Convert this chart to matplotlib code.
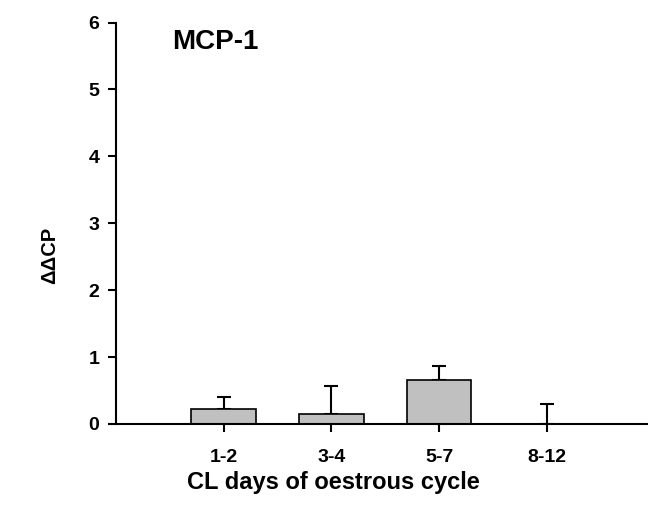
import matplotlib
matplotlib.use("Agg")
import matplotlib.pyplot as plt

plt.rcParams['font.family'] = ['Liberation Sans', 'DejaVu Sans']
plt.rcParams['font.weight'] = 'bold'

categories = ["1-2", "3-4", "5-7", "8-12"]
means = [0.23, 0.15, 0.66, 0.0]
errors = [0.18, 0.42, 0.20, 0.30]

fig = plt.figure(figsize=(6.48, 5.2), dpi=100)
ax = fig.add_axes([116 / 648, (520 - 424) / 520, 1 - 116 / 648, (424 - 22.5) / 520])

x = [1, 2, 3, 4]
ax.bar(x, means, width=0.6, color="#c0c0c0", edgecolor="black", linewidth=1.2, zorder=2)
ax.errorbar(x, means, yerr=[[0] * 4, errors], fmt="none", ecolor="black",
            elinewidth=1.5, capsize=5, capthick=1.5, zorder=1)

ax.set_xlim(0, 4.94)
ax.set_ylim(0, 6)
ax.set_xticks(x)
ax.set_xticklabels(categories)
ax.set_yticks(range(7))
for s in ["top", "right"]:
    ax.spines[s].set_visible(False)
ax.spines["left"].set_linewidth(1.5)
ax.spines["bottom"].set_linewidth(1.5)
ax.tick_params(direction="out", length=6, width=1.5, labelsize=14)
ax.tick_params(axis="x", pad=12)
ax.tick_params(axis="y", pad=6)
for lab in ax.get_xticklabels() + ax.get_yticklabels():
    lab.set_fontweight("bold")

fig.text(172 / 648, 1 - 42 / 520, "MCP-1", fontsize=20, fontweight="bold",
         va="center", ha="left")
fig.text(333 / 648, 1 - 482 / 520, "CL days of oestrous cycle", ha="center",
         va="center", fontsize=17, fontweight="bold")
fig.text(50 / 648, 1 - 255 / 520, "ΔΔCP", rotation=90, ha="center",
         va="center", fontsize=14.5, fontweight="bold")

fig.savefig("out.png", dpi=100)
